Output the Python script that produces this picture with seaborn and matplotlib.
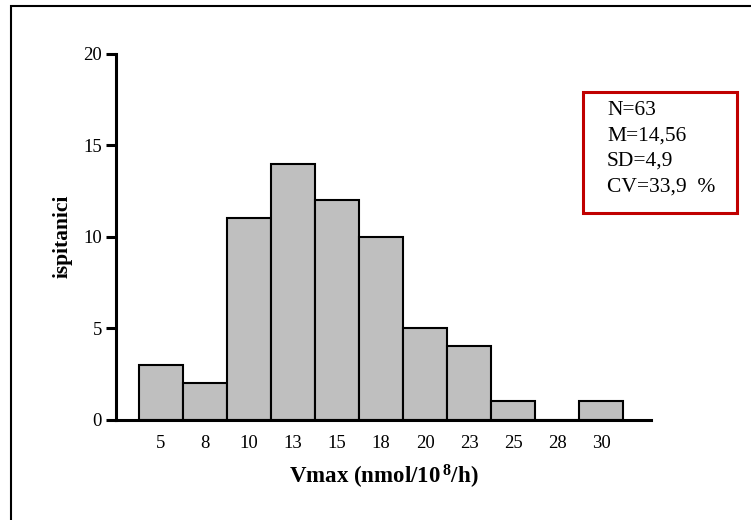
import matplotlib
matplotlib.use("Agg")
import matplotlib.pyplot as plt
from matplotlib.patches import Rectangle
import seaborn as sns
import pandas as pd

# ---- data ----
categories = ["5", "8", "10", "13", "15", "18", "20", "23", "25", "28", "30"]
counts = [3, 2, 11, 14, 12, 10, 5, 4, 1, 0, 1]
y_ticks = [0, 5, 10, 15, 20]
stats_lines = ["N=63", "M=14,56", "SD=4,9", "CV=33,9  %"]
x_label = r"Vmax (nmol/10$^{\,8}$/h)"
y_label = "ispitanici"

sns.set_style("ticks")
plt.rcParams["font.family"] = ["Liberation Serif", "DejaVu Serif"]
plt.rcParams["mathtext.default"] = "regular"
for k in ["text.color", "axes.labelcolor", "xtick.color", "ytick.color", "axes.edgecolor"]:
    plt.rcParams[k] = "black"

W, H = 751, 520
fig = plt.figure(figsize=(W / 100, H / 100), dpi=100)
ax = fig.add_axes([116 / W, 1 - 419.5 / H, (651 - 116) / W, (419.5 - 54) / H])

df = pd.DataFrame({"cat": categories, "n": counts})
sns.barplot(data=df, x="cat", y="n", order=categories, color="#bfbfbf",
            saturation=1, edgecolor="black", linewidth=1.5, width=1.0, ax=ax)

ax.set_xlim(-1.023, 11.136)
ax.set_ylim(0, 20)
ax.set_yticks(y_ticks)
ax.set_yticklabels([str(v) for v in y_ticks], fontsize=13.5)
ax.tick_params(axis="y", length=7, width=2.2, pad=3, direction="out")
ax.tick_params(axis="x", length=0, pad=11, labelsize=13.5)
for s in ["top", "right"]:
    ax.spines[s].set_visible(False)
for s in ["left", "bottom"]:
    ax.spines[s].set_linewidth(2.2)
    ax.spines[s].set_zorder(5)

ax.set_xlabel(x_label, fontsize=16.5, fontweight="bold", labelpad=8)
ax.set_ylabel(y_label, fontsize=15.5, fontweight="bold", labelpad=8)

# stats box
fig.patches.append(Rectangle((583 / W, 1 - 213 / H), (737 - 583) / W, (213 - 92) / H,
                             transform=fig.transFigure, fill=False,
                             edgecolor="#c00000", linewidth=2.2, zorder=10))
for i, line in enumerate(stats_lines):
    fig.text(607 / W, 1 - (115 + 25.5 * i) / H, line, fontsize=15.5,
             ha="left", va="baseline")

# outer frame (extends beyond right and bottom)
fig.patches.append(Rectangle((11 / W, -0.5), 2, (1 - 6 / H) + 0.5,
                             transform=fig.transFigure, fill=False,
                             edgecolor="black", linewidth=1.5, zorder=10))

fig.savefig("out.png", dpi=100)
